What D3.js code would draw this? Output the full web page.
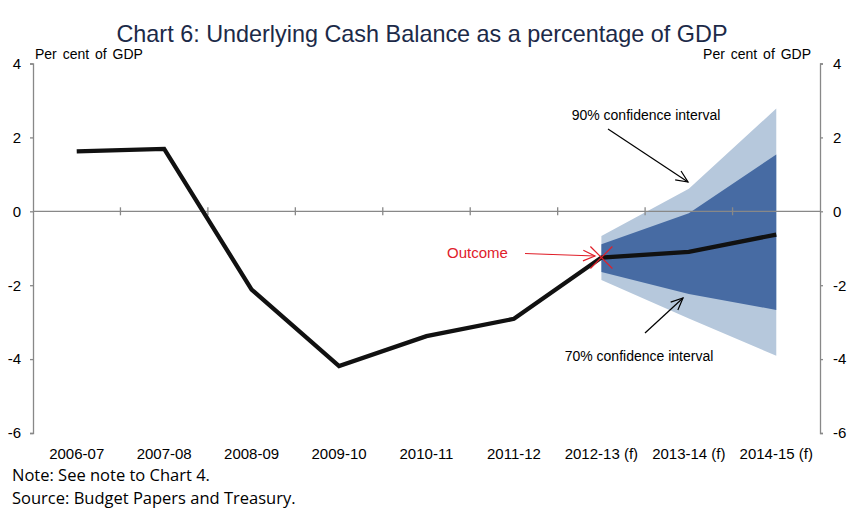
<!DOCTYPE html>
<html>
<head>
<meta charset="utf-8">
<script src="https://cdn.jsdelivr.net/npm/d3@7"></script>
<style>
  body { margin: 0; background: #fff; }
</style>
</head>
<body>
<svg id="chart" width="865" height="519" font-family='Arial, "Liberation Sans", sans-serif'></svg>
<script>
// Underlying cash balance, per cent of GDP
const years = ['2006-07', '2007-08', '2008-09', '2009-10', '2010-11', '2011-12',
  '2012-13 (f)', '2013-14 (f)', '2014-15 (f)'];
const balance = [1.62, 1.69, -2.12, -4.19, -3.38, -2.91, -1.25, -1.10, -0.63];

// Forecast fan, from 2012-13 to 2014-15
const fanYears = ['2012-13 (f)', '2013-14 (f)', '2014-15 (f)'];
const ci90Upper = [-0.67, 0.61, 2.78];
const ci90Lower = [-1.86, -2.90, -3.91];
const ci70Upper = [-0.89, -0.05, 1.54];
const ci70Lower = [-1.64, -2.24, -2.67];

const yTicks = [4, 2, 0, -2, -4, -6];

const svg = d3.select('#chart');
const plotLeft = 33, plotRight = 820, plotTop = 63.5, plotBottom = 433;

const x = d3.scaleBand().domain(years).range([plotLeft, plotRight]);
const cx = d => x(d) + x.bandwidth() / 2;
const y = d3.scaleLinear().domain([-6, 4]).range([plotBottom, plotTop]);

// Title
svg.append('text')
  .attr('x', 422).attr('y', 42)
  .attr('text-anchor', 'middle')
  .attr('font-size', 23.4)
  .attr('fill', '#1c2a48')
  .text('Chart 6: Underlying Cash Balance as a percentage of GDP');

svg.append('text').attr('x', 35).attr('y', 59).attr('font-size', 14)
  .attr('word-spacing', 2).text('Per cent of GDP');
svg.append('text').attr('x', 811).attr('y', 59).attr('font-size', 14)
  .attr('word-spacing', 2).attr('text-anchor', 'end').text('Per cent of GDP');

// Fan areas
const fan = fanYears.map((d, i) => ({
  yr: d, u90: ci90Upper[i], l90: ci90Lower[i], u70: ci70Upper[i], l70: ci70Lower[i]
}));
svg.append('path').datum(fan)
  .attr('fill', '#b6c8dc')
  .attr('d', d3.area().x(d => cx(d.yr)).y0(d => y(d.l90)).y1(d => y(d.u90)));
svg.append('path').datum(fan)
  .attr('fill', '#476ba3')
  .attr('d', d3.area().x(d => cx(d.yr)).y0(d => y(d.l70)).y1(d => y(d.u70)));

// Axes
const axisColor = '#888';
const fmt = d => String(d);
const yl = svg.append('g').attr('transform', `translate(${plotLeft},0)`)
  .call(d3.axisLeft(y).tickValues(yTicks).tickSize(3).tickSizeOuter(3).tickFormat(fmt));
const yr = svg.append('g').attr('transform', `translate(${plotRight},0)`)
  .call(d3.axisRight(y).tickValues(yTicks).tickSize(3).tickSizeOuter(3).tickFormat(fmt));
[yl, yr].forEach(g => {
  g.attr('font-family', 'Arial, "Liberation Sans", sans-serif').attr('font-size', 15);
  g.selectAll('path, line').attr('stroke', axisColor).attr('stroke-width', 1.3);
  g.selectAll('text').attr('fill', '#000');
});
yl.selectAll('text').attr('x', -12);
yr.selectAll('text').attr('x', 13);

// Zero line with category boundary ticks
svg.append('line')
  .attr('x1', plotLeft).attr('x2', plotRight).attr('y1', y(0)).attr('y2', y(0))
  .attr('stroke', axisColor).attr('stroke-width', 1.3);
svg.append('g').selectAll('line')
  .data(years.slice(1))
  .join('line')
  .attr('x1', d => x(d)).attr('x2', d => x(d))
  .attr('y1', y(0) - 4).attr('y2', y(0) + 4)
  .attr('stroke', axisColor).attr('stroke-width', 1.3);

// Category labels
svg.append('g').selectAll('text')
  .data(years)
  .join('text')
  .attr('x', d => cx(d)).attr('y', 459)
  .attr('text-anchor', 'middle').attr('font-size', 15)
  .text(d => d);

// Balance line
svg.append('path').datum(balance)
  .attr('fill', 'none').attr('stroke', '#111').attr('stroke-width', 4.3)
  .attr('stroke-linejoin', 'miter')
  .attr('d', d3.line().x((d, i) => cx(years[i])).y(d => y(d)));

// Annotations
function arrow(x1, y1, x2, y2, color, width) {
  const g = svg.append('g').attr('stroke', color).attr('stroke-width', width).attr('fill', 'none');
  g.append('line').attr('x1', x1).attr('y1', y1).attr('x2', x2).attr('y2', y2);
  const a = Math.atan2(y2 - y1, x2 - x1), len = 13, spread = 0.42;
  g.append('path').attr('d', `M${x2 - len * Math.cos(a - spread)},${y2 - len * Math.sin(a - spread)}L${x2},${y2}L${x2 - len * Math.cos(a + spread)},${y2 - len * Math.sin(a + spread)}`);
}

svg.append('text').attr('x', 646).attr('y', 120).attr('text-anchor', 'middle')
  .attr('font-size', 14).text('90% confidence interval');
arrow(608, 129, 688, 182, '#000', 1.2);

svg.append('text').attr('x', 639).attr('y', 361).attr('text-anchor', 'middle')
  .attr('font-size', 14).text('70% confidence interval');
arrow(645, 333, 683, 298, '#000', 1.2);

const red = '#e0202a';
svg.append('text').attr('x', 447).attr('y', 258).attr('font-size', 15)
  .attr('fill', red).text('Outcome');
arrow(525, 253.5, 595, 256, red, 1.2);
const ox = cx(years[6]), oy = y(balance[6]);
svg.append('path')
  .attr('d', `M${ox - 11},${oy - 11}L${ox + 11},${oy + 11}M${ox - 11},${oy + 11}L${ox + 11},${oy - 11}`)
  .attr('stroke', red).attr('stroke-width', 1.2);

// Notes
const notes = ['Note: See note to Chart 4.', 'Source: Budget Papers and Treasury.'];
svg.append('g').attr('font-family', '"Open Sans", Lato, sans-serif')
  .selectAll('text')
  .data(notes)
  .join('text')
  .attr('x', 12).attr('y', (d, i) => 481 + i * 23)
  .attr('font-size', 16.5)
  .text(d => d);
</script>
</body>
</html>
